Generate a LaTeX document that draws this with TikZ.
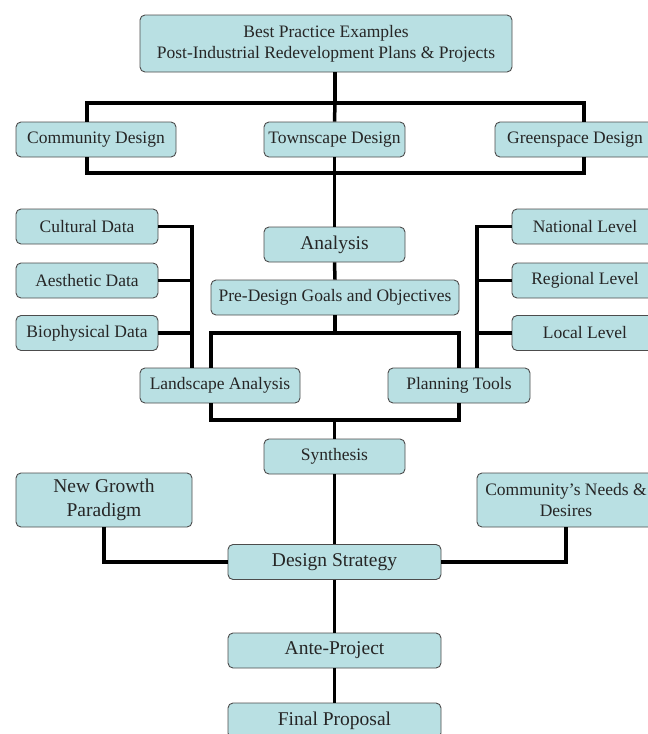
\documentclass[tikz,border=0pt]{standalone}
\usepackage{fontspec}
\setmainfont{Liberation Serif}
\definecolor{boxcyan}{RGB}{185,224,227}

\begin{document}
\begin{tikzpicture}[x=1pt,y=-1pt]
 \tikzset{flow box/.style={
    draw=black!70, line width=0.9pt,
    fill=boxcyan,
    text=black!85,
    rounded corners=5pt,
    minimum width=#1,
    minimum height=35pt,
    align=center,
    inner sep=0pt,
    font=\fontsize{17.5}{21}\selectfont
  },
  flow box/.default=141pt,
  big box/.style={flow box=#1, font=\fontsize{19.5}{24}\selectfont},
  big box/.default=213pt,
  link/.style={line width=3.5pt}
}
\useasboundingbox (0,0) rectangle (648,734);
\clip (0,0) rectangle (648,734);

\node[flow box=372pt, minimum height=57pt] (top) at (326,43.5)
   {Best Practice Examples\\Post-Industrial Redevelopment Plans \& Projects};
\node[flow box=160pt] (comm) at (96,139.5) {Community Design};
\node[flow box] (town) at (334.5,139.5) {Townscape Design};
\node[flow box=160pt] (green) at (575,139.5) {Greenspace Design};

\node[flow box=142pt] (cult) at (87,226.5) {Cultural Data};
\node[flow box=142pt] (aes) at (87,280.5) {Aesthetic Data};
\node[flow box=142pt] (bio) at (87,333) {Biophysical Data};
\node[big box=141pt] (ana) at (334.5,244.5) {Analysis};
\node[flow box=248pt] (pre) at (335,297.5) {Pre-Design Goals and Objectives};
\node[flow box=146pt] (nat) at (585,226.5) {National Level};
\node[flow box=146pt] (reg) at (585,280.5) {Regional Level};
\node[flow box=146pt] (loc) at (585,333) {Local Level};
\node[flow box=160pt] (land) at (220,385.5) {Landscape Analysis};
\node[flow box=142pt] (plan) at (459,385.5) {Planning Tools};

\node[flow box] (syn) at (334.5,456.5) {Synthesis};
\node[big box=176pt, minimum height=54pt] (ngp) at (104,500) {New Growth\\Paradigm};
\node[flow box=178pt, minimum height=54pt] (cn) at (566,500) {Community's Needs \&\\Desires};
\node[big box] (ds) at (334.5,562) {Design Strategy};
\node[big box] (ante) at (334.5,650.5) {Ante-Project};
\node[big box] (final) at (334.5,720.5) {Final Proposal};

\coordinate (busA) at (335,103);
\coordinate (leftA) at (87,103);
\coordinate (rightA) at (584,103);
\coordinate (leftB) at (87,173);
\coordinate (rightB) at (584,173);
\coordinate (dataL) at (192,227);
\coordinate (levR) at (477,227);
\coordinate (preL) at (211,333);
\coordinate (preR) at (459,333);
\coordinate (synL) at (211,420);
\coordinate (synR) at (459,420);

\draw[link] (top.south -| busA) -- (busA);
\draw[link] (comm.north -| leftA) |- (rightA) -- (green.north -| rightA);
\draw[link] (busA) -- (town.north);
\draw[link] (comm.south -| leftB) |- (rightB) -- (green.south -| rightB);
\draw[link] (town.south) -- (ana.north);
\draw[link] (ana.south) -- (pre.north);

\draw[link] (cult.east) -| (land.north -| dataL);
\draw[link] (aes.east) -- (aes.east -| dataL);
\draw[link] (bio.east) -- (bio.east -| dataL);
\draw[link] (nat.west) -| (plan.north -| levR);
\draw[link] (reg.west) -- (reg.west -| levR);
\draw[link] (loc.west) -- (loc.west -| levR);

\draw[link] (pre.south) -- (pre.south |- preL);
\draw[link] (land.north -| preL) |- (preR) -- (plan.north);
\draw[link] (land.south -| synL) |- (synR) -- (plan.south);
\draw[link] (syn.north |- synL) -- (syn.north);

\draw[link] (syn.south) -- (ds.north);
\draw[link] (ngp.south) |- (ds.west);
\draw[link] (cn.south) |- (ds.east);
\draw[link] (ds.south) -- (ante.north);
\draw[link] (ante.south) -- (final.north);
\end{tikzpicture}
\end{document}
